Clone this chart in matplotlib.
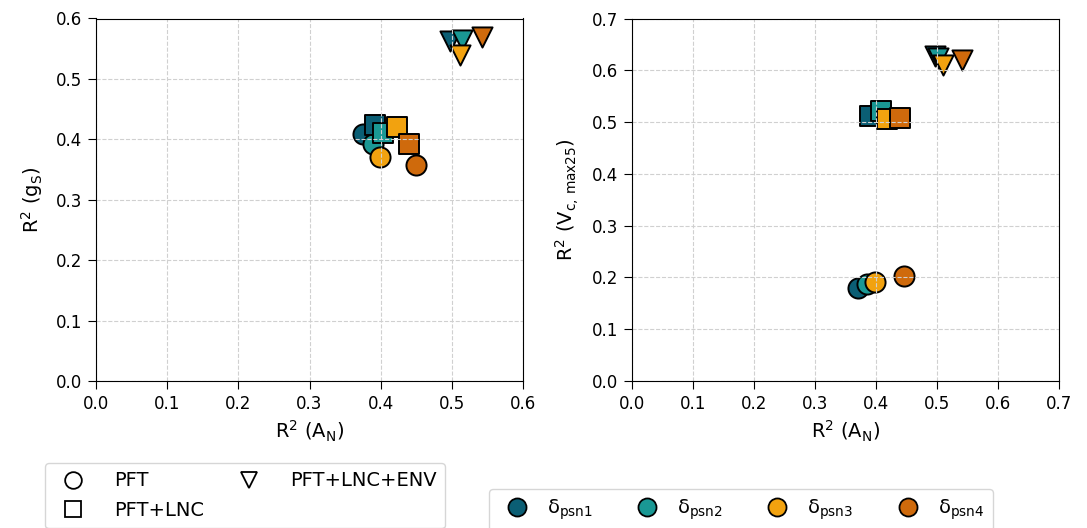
import matplotlib
matplotlib.use("Agg")
import matplotlib.pyplot as plt
from matplotlib.lines import Line2D

# ---- data ----
psn_labels = ["δ$_\\mathrm{psn1}$", "δ$_\\mathrm{psn2}$", "δ$_\\mathrm{psn3}$", "δ$_\\mathrm{psn4}$"]
psn_colors = ["#0b5e74", "#1a9894", "#f2a20f", "#cf6a0c"]
model_labels = ["PFT", "PFT+LNC", "PFT+LNC+ENV"]
model_markers = ["o", "s", "v"]

# Left panel: R2(A_N) vs R2(g_s); rows = models (PFT, PFT+LNC, PFT+LNC+ENV), cols = psn1..psn4
left_x = [[0.375, 0.389, 0.399, 0.450],
          [0.392, 0.403, 0.423, 0.440],
          [0.497, 0.514, 0.511, 0.542]]
left_y = [[0.408, 0.393, 0.370, 0.358],
          [0.423, 0.410, 0.420, 0.393],
          [0.562, 0.565, 0.540, 0.569]]

# Right panel: R2(A_N) vs R2(Vc,max25)
right_x = [[0.370, 0.385, 0.398, 0.446],
           [0.390, 0.408, 0.418, 0.440],
           [0.497, 0.502, 0.510, 0.541]]
right_y = [[0.180, 0.188, 0.191, 0.202],
           [0.512, 0.521, 0.506, 0.508],
           [0.627, 0.623, 0.610, 0.619]]

left_ticks = [0.0, 0.1, 0.2, 0.3, 0.4, 0.5, 0.6]
right_ticks = [0.0, 0.1, 0.2, 0.3, 0.4, 0.5, 0.6, 0.7]

fig = plt.figure(figsize=(10.87, 5.28), dpi=100)
axL = fig.add_axes([96/1087, 1-381/528, 427/1087, (381-18.5)/528])
axR = fig.add_axes([632/1087, 1-381/528, 427/1087, (381-18.5)/528])

def draw(ax, xs, ys, ticks, ylabel):
    for m, mk in enumerate(model_markers):
        for p, col in enumerate(psn_colors):
            ax.scatter(xs[m][p], ys[m][p], s=210, marker=mk, facecolor=col,
                       edgecolor="black", linewidth=1.4)
    ax.set_xlim(ticks[0], ticks[-1])
    ax.set_ylim(ticks[0], ticks[-1])
    ax.set_xticks(ticks)
    ax.set_yticks(ticks)
    ax.set_xticklabels([f"{t:.1f}" for t in ticks])
    ax.set_yticklabels([f"{t:.1f}" for t in ticks])
    ax.tick_params(labelsize=12, length=5.5, pad=4.5)
    ax.grid(True, linestyle="--", color="#d0d0d0", linewidth=0.8)
    ax.set_xlabel("R$^2$ (A$_\\mathrm{N}$)", fontsize=14)
    ax.set_ylabel(ylabel, fontsize=14, labelpad=8)

draw(axL, left_x, left_y, left_ticks, "R$^2$ (g$_\\mathrm{S}$)")
draw(axR, right_x, right_y, right_ticks, "R$^2$ (V$_\\mathrm{c,\\,max25}$)")

h1 = [Line2D([], [], linestyle="none", marker=mk, markersize=12,
             markerfacecolor="none", markeredgecolor="black", markeredgewidth=1.3)
      for mk in model_markers]
fig.legend(h1, model_labels, loc="upper left", bbox_to_anchor=(45/1087, 1-463/528),
           ncol=2, fontsize=14, columnspacing=1.35, handletextpad=1.1,
           borderpad=0.43, labelspacing=0.55, borderaxespad=0, frameon=True)

h2 = [Line2D([], [], linestyle="none", marker="o", markersize=13,
             markerfacecolor=c, markeredgecolor="black", markeredgewidth=1.3)
      for c in psn_colors]
fig.legend(h2, psn_labels, loc="upper left", bbox_to_anchor=(489/1087, 1-489/528),
           ncol=4, fontsize=14, columnspacing=1.78, handletextpad=0.55,
           borderpad=0.45, borderaxespad=0, frameon=True)

fig.savefig("out.png", dpi=100)
